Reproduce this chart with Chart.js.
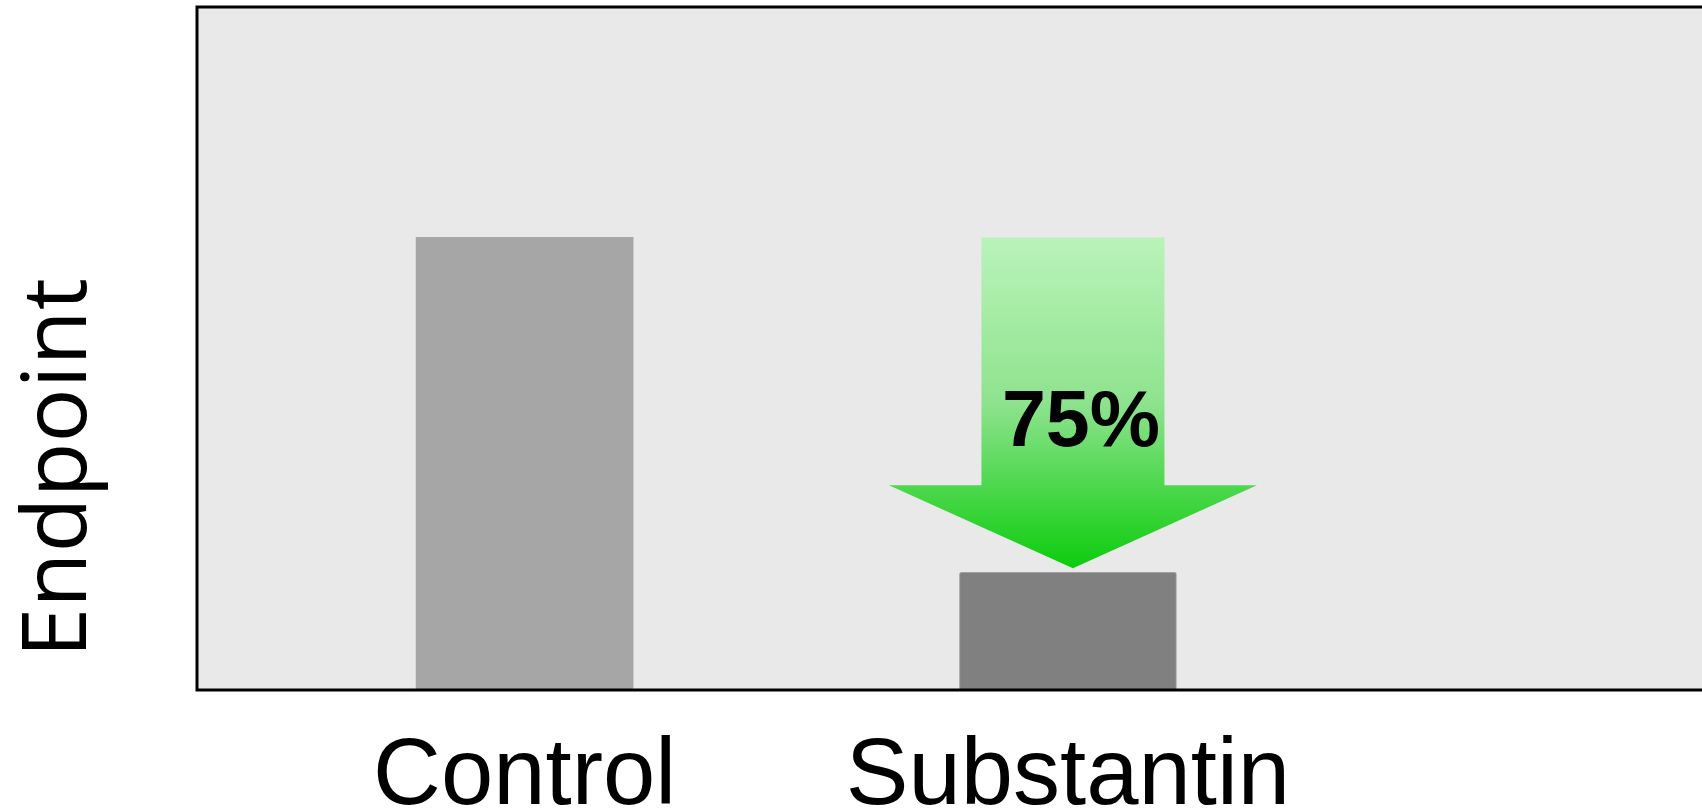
<!DOCTYPE html>
<html>
<head>
<meta charset="utf-8">
<script src="https://cdn.jsdelivr.net/npm/chart.js@4"></script>
<style>
  body { margin: 0; background: #fff; }
  #wrap { width: 1702px; height: 812px; }
</style>
</head>
<body>
<div id="wrap"><canvas id="endpointChart"></canvas></div>
<script>
// data
const categories = ['Control', 'Substantin'];
const positions = [1, 2];
const endpointValues = [100, 26];
const barColors = ['#a6a6a6', '#808080'];
const reductionLabel = '75%';
const yAxisTitle = 'Endpoint';

// grey plot background + black frame
const framePlugin = {
  id: 'frame',
  beforeDraw(chart) {
    const { ctx, chartArea: a } = chart;
    ctx.save();
    ctx.fillStyle = '#e9e9e9';
    ctx.fillRect(a.left, a.top, a.right - a.left + 10, a.bottom - a.top);
    ctx.restore();
  },
  afterDraw(chart) {
    const { ctx, chartArea: a } = chart;
    ctx.save();
    ctx.strokeStyle = '#000';
    ctx.lineWidth = 3;
    ctx.strokeRect(a.left, a.top, a.right - a.left + 10, a.bottom - a.top);
    // rotated axis title, placed like in the picture
    ctx.fillStyle = '#000';
    ctx.font = '90px "Open Sans", "Noto Sans", sans-serif';
    ctx.textAlign = 'center';
    ctx.textBaseline = 'alphabetic';
    ctx.translate(86, 468);
    ctx.rotate(-Math.PI / 2);
    ctx.fillText(yAxisTitle, 0, 0);
    ctx.restore();
  }
};

// green arrow from the control level down to the treated bar
const arrowPlugin = {
  id: 'arrow',
  afterDatasetsDraw(chart) {
    const { ctx, scales } = chart;
    const x = scales.x.getPixelForValue(positions[1]) + 5;
    const top = scales.y.getPixelForValue(endpointValues[0]);
    const tip = scales.y.getPixelForValue(endpointValues[1]) - 4;
    const headBase = tip - 83;
    const shaftHalf = 91.5, headHalf = 184;

    const grad = ctx.createLinearGradient(0, top, 0, tip);
    grad.addColorStop(0, '#baf3ba');
    grad.addColorStop(0.5, '#8ee38e');
    grad.addColorStop(1, '#0dcc0d');

    ctx.save();
    ctx.fillStyle = grad;
    ctx.beginPath();
    ctx.moveTo(x - shaftHalf, top);
    ctx.lineTo(x + shaftHalf, top);
    ctx.lineTo(x + shaftHalf, headBase);
    ctx.lineTo(x + headHalf, headBase);
    ctx.lineTo(x, tip);
    ctx.lineTo(x - headHalf, headBase);
    ctx.lineTo(x - shaftHalf, headBase);
    ctx.closePath();
    ctx.fill();

    ctx.fillStyle = '#000';
    ctx.font = 'bold 79px "Liberation Sans", Arial, sans-serif';
    ctx.textAlign = 'center';
    ctx.textBaseline = 'alphabetic';
    ctx.fillText(reductionLabel, x + 8, top + 209);
    ctx.restore();
  }
};

const ctx = document.getElementById('endpointChart').getContext('2d');
const endpointChart = new Chart(ctx, {
  type: 'bar',
  data: {
    datasets: [{
      data: positions.map((p, i) => ({ x: p, y: endpointValues[i] })),
      backgroundColor: barColors,
      borderColor: ['#a6a6a6', '#a0a0a0'],
      borderWidth: [0, 1],
      borderRadius: [0, 2],
      borderSkipped: 'bottom',
      barThickness: 217
    }]
  },
  options: {
    responsive: true,
    maintainAspectRatio: false,
    animation: false,
    layout: { padding: { left: 197, top: 7, right: 0, bottom: 0 } },
    plugins: {
      legend: { display: false },
      tooltip: { enabled: false }
    },
    scales: {
      x: {
        type: 'linear',
        offset: false,
        min: 0.397,
        max: 3.167,
        grid: { display: false, offset: false },
        border: { display: false },
        afterBuildTicks: (scale) => {
          scale.ticks = positions.map(v => ({ value: v }));
        },
        afterFit: (scale) => {
          scale.height = 122;
        },
        ticks: {
          color: '#000',
          padding: 33,
          maxRotation: 0,
          autoSkip: false,
          font: { family: '"Liberation Sans", Arial, sans-serif', size: 94, lineHeight: 1.0 },
          callback: (value) => categories[positions.indexOf(value)] || ''
        }
      },
      y: {
        display: false,
        min: 0,
        max: 150.9
      }
    }
  },
  plugins: [framePlugin, arrowPlugin]
});
</script>
</body>
</html>
